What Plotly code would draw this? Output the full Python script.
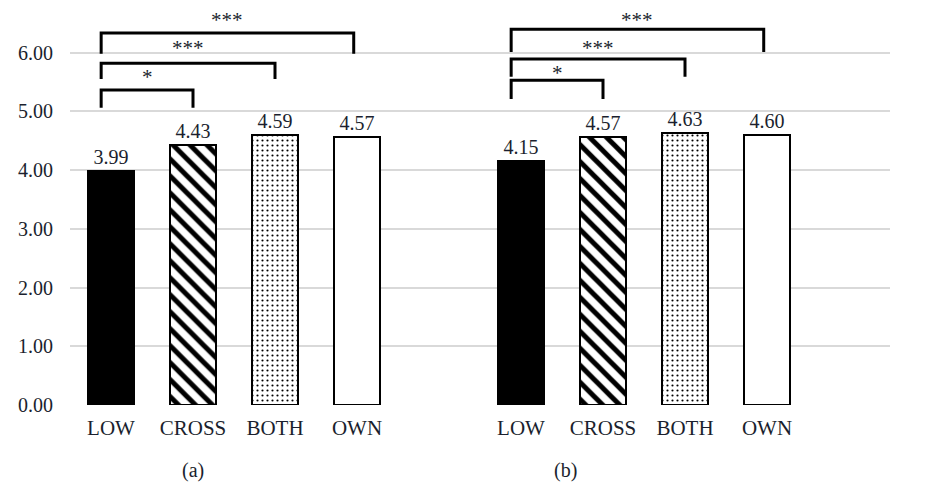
import plotly.graph_objects as go

# categories and group means
categories = ["LOW", "CROSS", "BOTH", "OWN"]
values_a = [3.99, 4.43, 4.59, 4.57]
values_b = [4.15, 4.57, 4.63, 4.60]
panel_labels = ["(a)", "(b)"]
y_ticks = [0, 1, 2, 3, 4, 5, 6]

# significance comparisons: (from index, to index, stars)
comparisons = [(0, 1, "*"), (0, 2, "***"), (0, 3, "***")]

FONT = "Liberation Serif, Times New Roman, serif"
TEXT = "#1b1f2e"

fills = [
    dict(color="black"),
    dict(color="white", pattern=dict(shape="\\", fgcolor="black", bgcolor="white",
                                     fgopacity=1, size=12, solidity=0.42)),
    dict(color="white", pattern=dict(shape=".", fgcolor="black", bgcolor="white",
                                     fgopacity=1, size=5, solidity=0.15)),
    dict(color="white"),
]

fig = go.Figure()

offsets = [0, 5]
for off, vals in zip(offsets, [values_a, values_b]):
    for i, v in enumerate(vals):
        f = fills[i]
        fig.add_trace(go.Bar(
            x=[i + off], y=[v], width=0.56,
            marker=dict(color=f["color"], pattern=f.get("pattern"),
                        line=dict(color="black", width=2)),
            text=[f"{v:.2f}"], textposition="outside",
            textfont=dict(family=FONT, size=20, color=TEXT),
            cliponaxis=False, showlegend=False, hoverinfo="skip",
        ))

# bracket levels (bottom of legs, top bar, star height) per panel
levels = {
    0: [(5.06, 5.365, 5.59), (5.55, 5.82, 6.08), (5.98, 6.335, 6.56)],
    5: [(5.21, 5.53, 5.65), (5.59, 5.89, 6.08), (6.01, 6.40, 6.56)],
}
for off in offsets:
    for (a, b, stars), (lo, hi, sy) in zip(comparisons, levels[off]):
        x0 = a + off - 0.12
        x1 = b + off - (0.04 if b == 3 else 0)
        fig.add_shape(type="path",
                      path=f"M {x0},{lo} L {x0},{hi} L {x1},{hi} L {x1},{lo}",
                      xref="x", yref="y", line=dict(color="black", width=3))
        fig.add_annotation(x=(x0 + x1) / 2, y=sy, text=stars, showarrow=False,
                           yanchor="middle",
                           font=dict(family=FONT, size=21, color=TEXT))

for lab, px in zip(panel_labels, [1.0, 5.54]):
    fig.add_annotation(x=px, y=-0.164, xref="x", yref="paper", text=lab,
                       showarrow=False, xanchor="center", yanchor="middle",
                       font=dict(family=FONT, size=20, color=TEXT))

fig.update_layout(
    width=935, height=485,
    margin=dict(l=70, r=45, t=8, b=80),
    plot_bgcolor="white", paper_bgcolor="white",
    bargap=0,
    font=dict(family=FONT, size=20, color=TEXT),
)
fig.update_xaxes(
    range=[-0.5, 9.5], showgrid=False, zeroline=False, showline=False,
    tickvals=[i + off for off in offsets for i in range(len(categories))],
    ticktext=categories * 2, ticks="", ticklabelstandoff=8,
    tickfont=dict(family=FONT, size=21, color=TEXT),
)
fig.update_yaxes(
    range=[0, 6.76], tickvals=y_ticks, ticktext=[f"{t:.2f}" for t in y_ticks],
    showgrid=True, gridcolor="#d9d9d9", gridwidth=2, zeroline=False, showline=False,
    ticks="", ticklabelstandoff=16,
    tickfont=dict(family=FONT, size=20, color=TEXT),
)

# drop the default body margin so the figure fills the window
fig.write_html("out.html", config={"displayModeBar": False},
               post_script="document.body.style.margin='0';")
